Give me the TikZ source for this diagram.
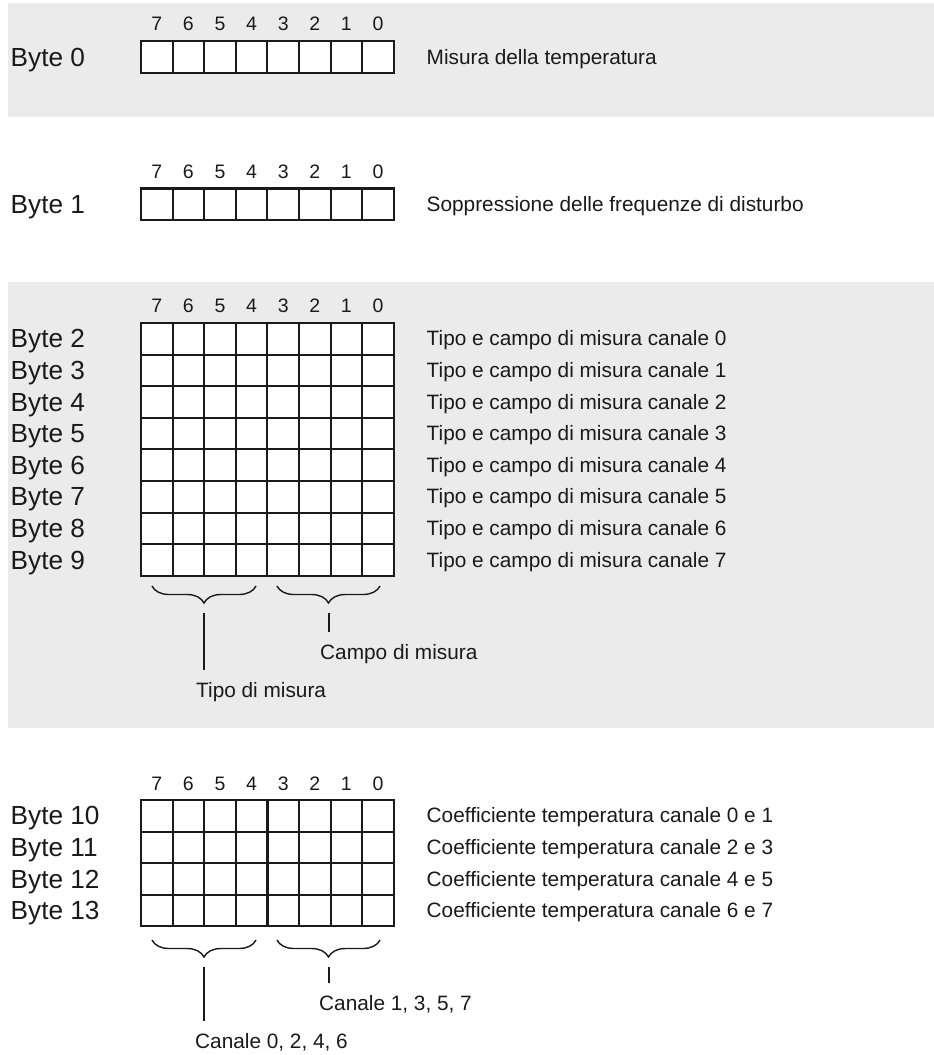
\documentclass[tikz,border=0pt]{standalone}
\usepackage{fontspec}
\setmainfont{Liberation Sans}
\usetikzlibrary{decorations.pathreplacing}
\definecolor{bandgray}{HTML}{EBEBEB}
\definecolor{ink}{HTML}{1A1A1A}

\begin{document}
\begin{tikzpicture}[
    x=1pt,
    y=-1pt,
    band/.style={
        fill=bandgray,
        draw=none
    },
    bitbox/.style={
        draw=ink,
        fill=white,
        line width=2.1pt
    },
    bitnum/.style={
        font=\fontsize{19.5}{22}\selectfont,
        text=ink,
        anchor=base,
        inner sep=0pt
    },
    bytelbl/.style={
        font=\fontsize{26.2}{30}\selectfont,
        text=ink,
        anchor=base west,
        inner sep=0pt
    },
    desc/.style={
        font=\fontsize{20.8}{24}\selectfont,
        text=ink,
        anchor=base west,
        inner sep=0pt
    },
    bracket/.style={
        draw=ink,
        line width=1.4pt,
        decorate,
        decoration={brace, mirror, amplitude=17pt}
    },
    leader/.style={
        draw=ink,
        line width=2pt,
        shorten <=10pt,
        shorten >=12pt
    }
]

\useasboundingbox (0,0) rectangle (934,1055);
\fill[white] (0,0) rectangle (934,1055);

\fill[band] (8,3) rectangle (934,117);
\fill[band] (8,282) rectangle (934,728);


\foreach \i [evaluate=\i as \bit using int(7-\i)] in {0,...,7} {
    \draw[bitbox] (141+31.6*\i,41) rectangle ++(31.6,31.6);
    \node[bitnum] (numA\bit) at (156.8+31.6*\i,30.7) {\bit};
}

\node[bytelbl] (byte0) at (10.5,66) {Byte 0};
\node[desc] (desc0) at (426.5,64) {Misura della temperatura};


\foreach \i [evaluate=\i as \bit using int(7-\i)] in {0,...,7} {
    \draw[bitbox] (141+31.6*\i,188.5) rectangle ++(31.6,31.6);
    \node[bitnum] (numB\bit) at (156.8+31.6*\i,178) {\bit};
}

\node[bytelbl] (byte1) at (10.5,213.5) {Byte 1};
\node[desc] (desc1) at (426.5,211.5) {Soppressione delle frequenze di disturbo};


\foreach \i [evaluate=\i as \bit using int(7-\i)] in {0,...,7} {
    \node[bitnum] (numC\bit) at (156.8+31.6*\i,312.7) {\bit};
    \foreach \r in {0,...,7}
        \draw[bitbox] (141+31.6*\i,323+31.6*\r) rectangle ++(31.6,31.6);
}

\foreach \c [count=\r from 2] in {0,...,7} {
    \node[bytelbl] (byte\r) at (10.5,{347.8+31.6*\c}) {Byte \r};
    \node[desc] (desc\r) at (426.5,{345.8+31.6*\c})
        {Tipo e campo di misura canale \c};
}

\draw[bracket] (152,586) -- (256,586);
\coordinate (tipoTip) at (204,603);
\draw[bracket] (277,586) -- (380,586);
\coordinate (campoTip) at (328.5,603);

\node[desc] (tipo) at (196,697) {Tipo di misura};
\node[desc] (campo) at (320,659) {Campo di misura};

\draw[leader] (tipoTip) -- (tipoTip |- tipo.north);
\draw[leader] (campoTip) -- (campoTip |- campo.north);


\foreach \i [evaluate=\i as \bit using int(7-\i)] in {0,...,7} {
    \node[bitnum] (numD\bit) at (156.8+31.6*\i,790) {\bit};
    \foreach \r in {0,...,3}
        \draw[bitbox] (141+31.6*\i,800+31.6*\r) rectangle ++(31.6,31.6);
}
\draw[ink, line width=3.6pt] (267.4,800) -- (267.4,926.4);

\foreach \a/\b [count=\k from 0] in {0/1,2/3,4/5,6/7} {
    \pgfmathtruncatemacro{\r}{10+\k}
    \node[bytelbl] (byte\r) at (10.5,{824.8+31.6*\k}) {Byte \r};
    \node[desc] (desc\r) at (426.5,{822.8+31.6*\k})
        {Coefficiente temperatura canale \a\ e \b};
}

\draw[bracket] (152,940) -- (256,940);
\coordinate (evenTip) at (204,957);
\draw[bracket] (277,940) -- (380,940);
\coordinate (oddTip) at (328.5,957);

\node[desc] (evenCh) at (195,1048) {Canale 0, 2, 4, 6};
\node[desc] (oddCh) at (319,1010) {Canale 1, 3, 5, 7};

\draw[leader] (evenTip) -- (evenTip |- evenCh.north);
\draw[leader] (oddTip) -- (oddTip |- oddCh.north);

\end{tikzpicture}
\end{document}
